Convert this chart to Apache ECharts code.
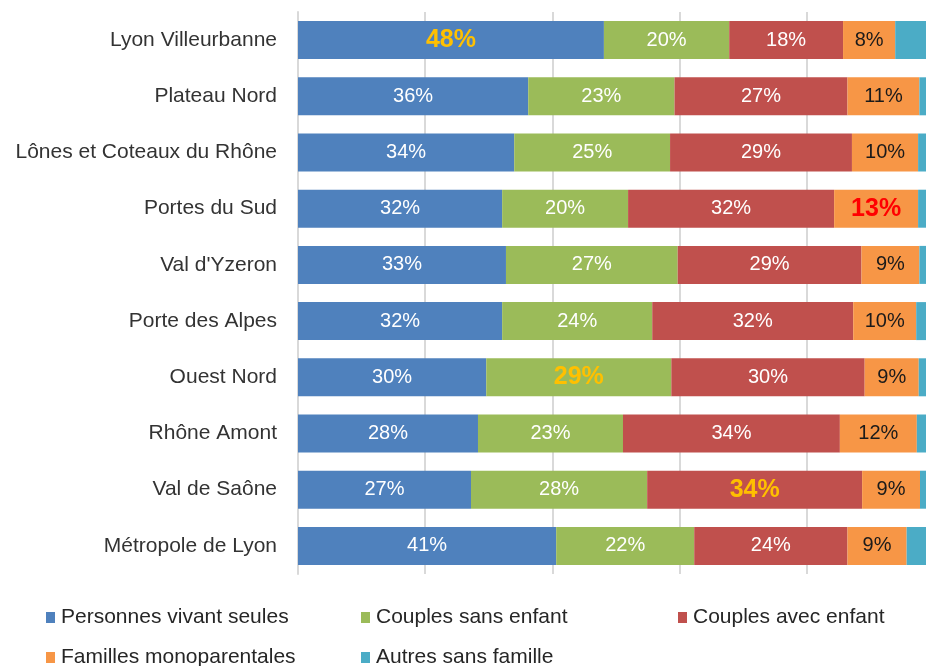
<!DOCTYPE html>
<html>
<head>
<meta charset="utf-8">
<script src="https://cdn.jsdelivr.net/npm/echarts@6/dist/echarts.min.js"></script>
<style>
  html, body { margin: 0; padding: 0; background: #fff; overflow: hidden; }
  #main { width: 926px; height: 666px; }
</style>
</head>
<body>
<div id="main"></div>
<script>
// territoires, du haut vers le bas
let categories = ['Lyon Villeurbanne', 'Plateau Nord', 'Lônes et Coteaux du Rhône', 'Portes du Sud',
    "Val d'Yzeron", 'Porte des Alpes', 'Ouest Nord', 'Rhône Amont', 'Val de Saône', 'Métropole de Lyon'];

let seriesNames = ['Personnes vivant seules', 'Couples sans enfant', 'Couples avec enfant',
    'Familles monoparentales', 'Autres sans famille'];

// parts en %
let seules      = [48.1, 36.2, 34.0, 32.1, 32.7, 32.1, 29.6, 28.3, 27.2, 40.6];
let sansEnfant  = [19.7, 23.0, 24.5, 19.8, 27.0, 23.6, 29.1, 22.8, 27.7, 21.7];
let avecEnfant  = [17.9, 27.2, 28.6, 32.4, 28.9, 31.6, 30.4, 34.1, 33.8, 24.1];
let monoparent  = [8.2, 11.3, 10.4, 13.2, 9.1, 9.9, 8.5, 12.1, 9.1, 9.3];
let autres      = [6.1, 2.3, 2.5, 2.5, 2.3, 2.8, 2.4, 2.7, 2.2, 4.3];

// [série, territoire, couleur] des étiquettes mises en avant
let highlights = [[0, 0, '#FFC000'], [3, 3, '#FF0000'], [1, 6, '#FFC000'], [2, 8, '#FFC000']];

let colors = ['#4F81BD', '#9BBB59', '#C0504D', '#F79646', '#4BACC6'];
let labelColors = ['#fff', '#fff', '#fff', '#1a1a1a', null];
let allData = [seules, sansEnfant, avecEnfant, monoparent, autres];

function buildData(si) {
    return allData[si].map(function (v, ci) {
        let item = { value: v };
        highlights.forEach(function (h) {
            if (h[0] === si && h[1] === ci) {
                item.label = { color: h[2], fontSize: 25, fontWeight: 'bold' };
            }
        });
        return item;
    });
}

let legendPos = [[46, 607], [361, 607], [678, 607], [46, 647], [361, 647]];

let option = {
    animation: false,
    textStyle: { fontFamily: '"Liberation Sans", Arial, sans-serif' },
    color: colors,
    // la zone de tracé déborde à droite (100 % hors cadre)
    grid: { left: 298, width: 636, top: 12, bottom: 92, outerBoundsMode: 'none' },
    legend: seriesNames.map(function (n, i) {
        return {
            data: [n],
            left: legendPos[i][0],
            top: legendPos[i][1],
            icon: 'rect',
            itemWidth: 9,
            itemHeight: 11,
            itemGap: 0,
            padding: 0,
            textStyle: { fontSize: 21, color: '#262626', padding: [0, 0, 0, 1] }
        };
    }),
    xAxis: {
        type: 'value',
        min: 0,
        max: 100,
        interval: 20,
        axisLabel: { show: false },
        axisLine: { show: false },
        axisTick: { show: false },
        splitLine: { lineStyle: { color: '#d9d9d9', width: 2 } }
    },
    yAxis: {
        type: 'category',
        inverse: true,
        data: categories,
        axisLine: { show: true, lineStyle: { color: '#d9d9d9', width: 2 } },
        axisTick: { show: false },
        axisLabel: { fontSize: 21, color: '#333', margin: 21 }
    },
    series: seriesNames.map(function (n, i) {
        return {
            name: n,
            type: 'bar',
            stack: 'total',
            barWidth: 38,
            data: buildData(i),
            label: {
                show: labelColors[i] !== null,
                position: 'inside',
                fontSize: 20,
                color: labelColors[i],
                formatter: function (p) { return Math.round(p.value) + '%'; }
            }
        };
    })
};

let myChart = echarts.init(document.getElementById('main'));
myChart.setOption(option);
</script>
</body>
</html>
